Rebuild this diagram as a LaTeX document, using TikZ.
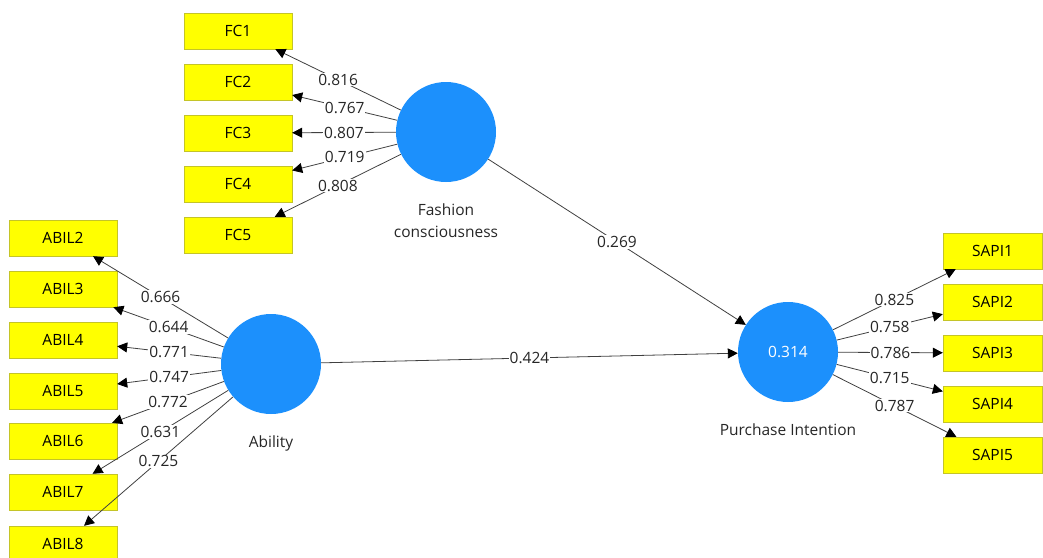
\documentclass[tikz,border=0pt]{standalone}
\usepackage{fontspec}
\setmainfont{Open Sans}
\usepackage{tikz}
\usetikzlibrary{positioning, arrows.meta}

\definecolor{lvblue}{RGB}{28,144,252}
\definecolor{indyellow}{RGB}{255,255,0}
\definecolor{indedge}{RGB}{196,196,40}
\newcommand{\pxfont}{\fontsize{15.5}{22}\selectfont}

\begin{document}
\begin{tikzpicture}[
    x=1pt, y=-1pt,
    ind/.style={draw=indedge, fill=indyellow, minimum width=108pt,
      minimum height=36pt, inner sep=0pt, font=\pxfont},
    lv/.style={circle, fill=lvblue, minimum size=100pt, inner sep=0pt,
      text=white, font=\pxfont},
    lvname/.style={below=21pt of #1, align=center, inner sep=0pt,
      text=black!85, font=\pxfont},
    load/.style={fill=white, inner sep=1pt, text=black!85, font=\pxfont},
    link/.style={->, line width=0.8pt, draw=black!75},
    >={Triangle[length=10pt,width=10pt,color=black]}
  ]
    \useasboundingbox (0,0) rectangle (1043,557);

    % latent variables
    \node[lv] (fc) at (446,132) {};
    \node[lv] (ab) at (271,364) {};
    \node[lv] (pi) at (788,352) {0.314};
    \node[lvname=fc] (fcname) {Fashion\\consciousness};
    \node[lvname=ab] (abname) {Ability};
    \node[lvname=pi] (piname) {Purchase Intention};

    % indicators
    \node[ind] (fc1) at (238,31)  {FC1};
    \node[ind] (fc2) at (238,82)  {FC2};
    \node[ind] (fc3) at (238,133) {FC3};
    \node[ind] (fc4) at (238,184) {FC4};
    \node[ind] (fc5) at (238,235) {FC5};

    \node[ind] (ab2) at (63,238) {ABIL2};
    \node[ind] (ab3) at (63,289) {ABIL3};
    \node[ind] (ab4) at (63,340) {ABIL4};
    \node[ind] (ab5) at (63,391) {ABIL5};
    \node[ind] (ab6) at (63,441) {ABIL6};
    \node[ind] (ab7) at (63,492) {ABIL7};
    \node[ind] (ab8) at (63,544) {ABIL8};

    \node[ind, minimum width=99pt] (sa1) at (992.5,251) {SAPI1};
    \node[ind, minimum width=99pt] (sa2) at (992.5,302) {SAPI2};
    \node[ind, minimum width=99pt] (sa3) at (992.5,353) {SAPI3};
    \node[ind, minimum width=99pt] (sa4) at (992.5,404) {SAPI4};
    \node[ind, minimum width=99pt] (sa5) at (992.5,455) {SAPI5};

    % outer loadings
    \draw[link] (fc) -- node[load] {0.816} (fc1);
    \draw[link] (fc) -- node[load] {0.767} (fc2);
    \draw[link] (fc) -- node[load] {0.807} (fc3);
    \draw[link] (fc) -- node[load] {0.719} (fc4);
    \draw[link] (fc) -- node[load] {0.808} (fc5);

    \draw[link] (ab) -- node[load] {0.666} (ab2);
    \draw[link] (ab) -- node[load] {0.644} (ab3);
    \draw[link] (ab) -- node[load] {0.771} (ab4);
    \draw[link] (ab) -- node[load] {0.747} (ab5);
    \draw[link] (ab) -- node[load] {0.772} (ab6);
    \draw[link] (ab) -- node[load] {0.631} (ab7);
    \draw[link] (ab) -- node[load] {0.725} (ab8);

    \draw[link] (pi) -- node[load] {0.825} (sa1);
    \draw[link] (pi) -- node[load] {0.758} (sa2);
    \draw[link] (pi) -- node[load] {0.786} (sa3);
    \draw[link] (pi) -- node[load] {0.715} (sa4);
    \draw[link] (pi) -- node[load] {0.787} (sa5);

    % path coefficients
    \draw[link] (fc) -- node[load] {0.269} (pi);
    \draw[link] (ab) -- node[load] {0.424} (pi);
  \end{tikzpicture}
\end{document}
